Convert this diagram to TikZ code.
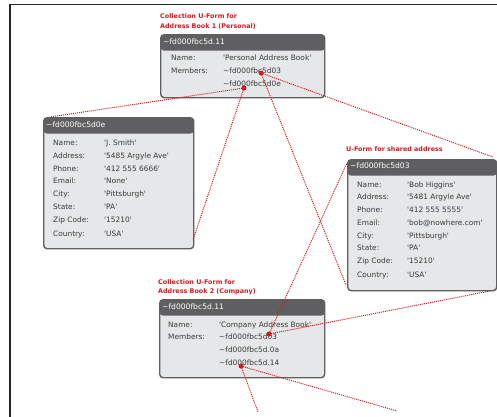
\documentclass[tikz,border=0pt]{standalone}
\usepackage{fontspec}
\setmainfont{DejaVu Sans}
\newcommand{\qq}{\textquotesingle}
\definecolor{hdr}{HTML}{5F5F61}
\definecolor{bodyfill}{HTML}{E6E7E8}
\definecolor{edge}{HTML}{5F5F61}
\definecolor{txt}{HTML}{3A3A3A}
\definecolor{redc}{HTML}{D7191F}
\tikzset{
  box/.style={draw=edge, line width=1.4pt, fill=bodyfill, rounded corners=3.5pt,
    anchor=north west, inner sep=0pt,
    path picture={\fill[hdr] (path picture bounding box.north west) rectangle ([yshift=-16pt]path picture bounding box.north east);}},
  ttl/.style={anchor=west, inner sep=0pt, text=white, font=\fontsize{7.6}{8}\selectfont, text height=5.7pt, text depth=1.5pt},
  fld/.style={anchor=west, inner sep=0pt, text=txt, font=\fontsize{7.4}{8}\selectfont, text height=5.4pt, text depth=1.5pt},
  redlabel/.style={anchor=west, inner sep=0pt, text=redc, font=\fontsize{6.4}{7}\selectfont\bfseries, text height=4.8pt, text depth=1.2pt},
  reddot/.style={circle, fill=redc, inner sep=0pt, minimum size=5pt},
  link/.style={draw=redc, line width=1pt, dash pattern=on 1pt off 1pt},
  frame/.style={draw=black!85, line width=1.2pt}
}
\begin{document}
\begin{tikzpicture}[x=1pt,y=-1pt]
\useasboundingbox (0,0) rectangle (497,416);
\fill[white] (0,0) rectangle (497,416);
\draw[frame] (10,417) -- (10,4.5) -- (498,4.5);

% ---------- Box 1: Personal
\node[redlabel] (c1a) at (160,17) {Collection U-Form for};
\node[redlabel] (c1b) at (160,27) {Address Book 1 (Personal)};
\node[box, minimum width=164pt, minimum height=63pt] (p) at (160,34) {};
\node[ttl] (p0) at (163,42) {\textasciitilde fd000fbc5d.11};
\node[fld] (p1) at (171,59) {Name:};
\node[fld] (p1v) at (223,59) {\qq Personal Address Book\qq};
\node[fld] (p2) at (171,72) {Members:};
\node[fld] (p2v) at (223,72) {\textasciitilde fd000fbc5d03};
\node[fld] (p3v) at (223,85) {\textasciitilde fd000fbc5d0e};

% ---------- Box 2: J. Smith
\node[box, minimum width=150pt, minimum height=131pt] (s) at (43,117) {};
\node[ttl] (s0) at (46,125) {\textasciitilde fd000fbc5d0e};
\foreach \k/\l/\v/\y in {1/Name:/J. Smith/144, 2/Address:/5485 Argyle Ave/157, 3/Phone:/412 555 6666/170, 4/Email:/None/182, 5/City:/Pittsburgh/195, 6/State:/PA/208, 7/Zip Code:/15210/221, 8/Country:/USA/235}{
  \node[fld] (s\k) at (53,\y) {\l};
  \node[fld] (s\k v) at (104,\y) {\qq\v\qq};
}

% ---------- Box 3: Bob Higgins
\node[redlabel] (c3) at (346,150) {U-Form for shared address};
\node[box, minimum width=149pt, minimum height=131pt] (h) at (347,159) {};
\node[ttl] (h0) at (350,166) {\textasciitilde fd000fbc5d03};
\foreach \k/\l/\v/\y in {1/Name:/Bob Higgins/186, 2/Address:/5481 Argyle Ave/198, 3/Phone:/412 555 5555/211, 4/Email:/bob@nowhere.com/224, 5/City:/Pittsburgh/237, 6/State:/PA/249, 7/Zip Code:/15210/262, 8/Country:/USA/276}{
  \node[fld] (h\k) at (357,\y) {\l};
  \node[fld] (h\k v) at (407,\y) {\qq\v\qq};
}

% ---------- Box 4: Company
\node[redlabel] (c4a) at (158,283) {Collection U-Form for};
\node[redlabel] (c4b) at (158,292) {Address Book 2 (Company)};
\node[box, minimum width=165pt, minimum height=78pt] (c) at (159,299) {};
\node[ttl] (c0) at (162,307) {\textasciitilde fd000fbc5d.11};
\node[fld] (c1) at (168,326) {Name:};
\node[fld] (c1v) at (219,326) {\qq Company Address Book\qq};
\node[fld] (c2) at (168,338) {Members:};
\node[fld] (c2v) at (219,338) {\textasciitilde fd000fbc5d03};
\node[fld] (c3v) at (219,351) {\textasciitilde fd000fbc5d.0a};
\node[fld] (c4v) at (219,364) {\textasciitilde fd000fbc5d.14};

% ---------- connector ends
\coordinate (e1) at (493,157);
\coordinate (e2) at (346,285);
\coordinate (e3) at (50,117);
\coordinate (e4) at (193,240);
\coordinate (e5) at (347,163);
\coordinate (e6) at (495,290);
\coordinate (e7) at (258,412);
\coordinate (e8) at (397,411);

% ---------- dots
\node[reddot] (dA) at (261,73) {};
\node[reddot] (dB) at (244,88) {};
\node[reddot] (dC) at (269,334) {};
\node[reddot] (dD) at (241,366) {};

\draw[link] (dA.center) -- (e1);
\draw[link] (dA.center) -- (e2);
\draw[link] (dB.center) -- (e3);
\draw[link] (dB.center) -- (e4);
\draw[link] (dC.center) -- (e5);
\draw[link] (dC.center) -- (e6);
\draw[link] (dD.center) -- (e7);
\draw[link] (dD.center) -- (e8);
\end{tikzpicture}
\end{document}
